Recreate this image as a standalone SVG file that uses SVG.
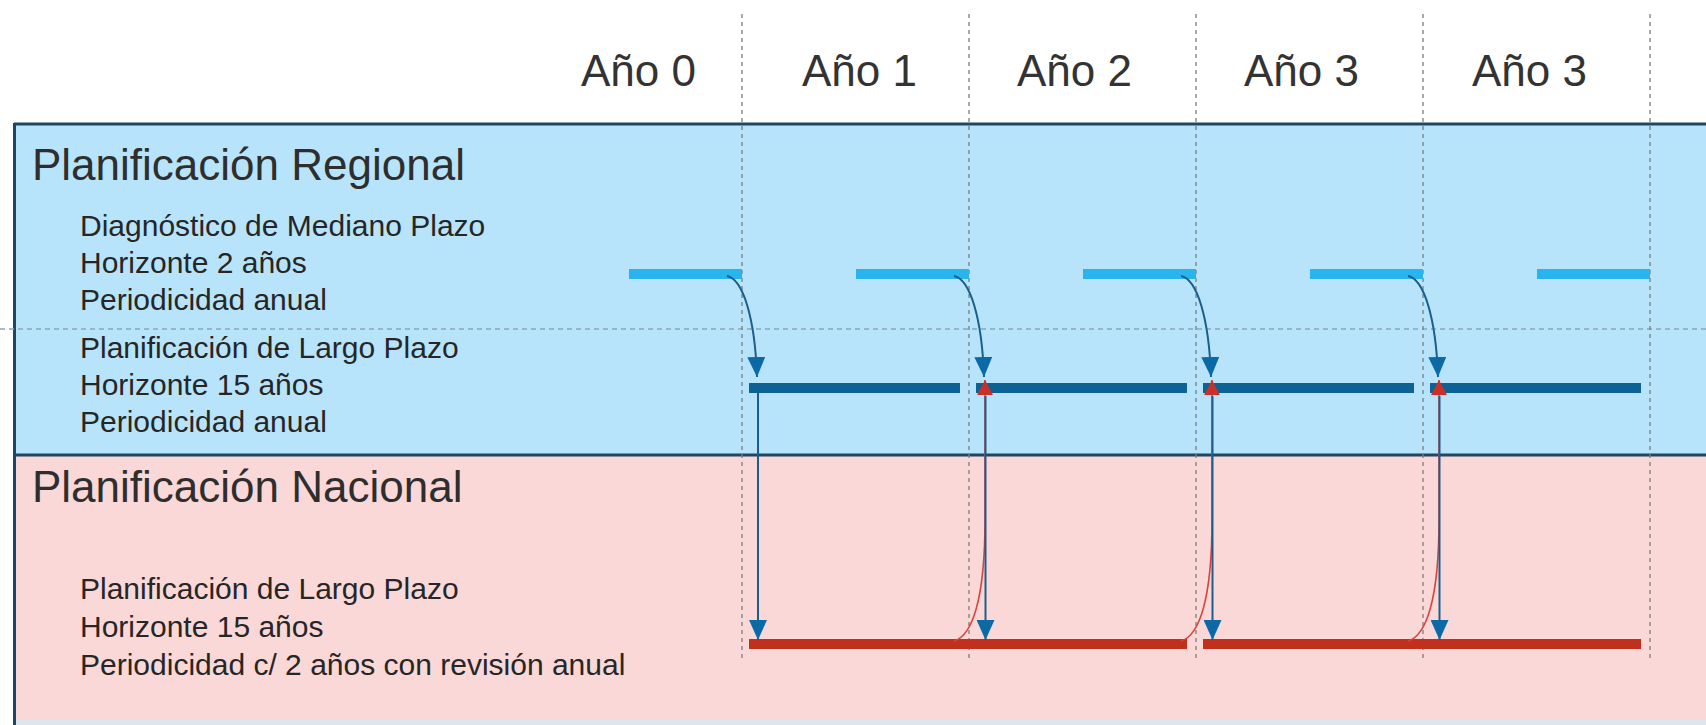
<svg xmlns="http://www.w3.org/2000/svg" width="1706" height="725" viewBox="0 0 1706 725">
<defs>
<style>
.head{font-family:"Liberation Sans",Arial,sans-serif;font-size:44px;fill:#2e2e2e}
.year{font-family:"Liberation Sans",Arial,sans-serif;font-size:44px;fill:#333333}
.sub{font-family:"Liberation Sans",Arial,sans-serif;font-size:30px;fill:#262626}
.vdash{stroke:#7d7d7d;stroke-width:1.3;stroke-dasharray:4 4;fill:none}
.hdash{stroke:#8aa6b8;stroke-width:1.3;stroke-dasharray:5 4;fill:none}
.border{stroke:#1d4763;stroke-width:3;fill:none}
.light{stroke:#2ab4ee;stroke-width:10;fill:none}
.dark{stroke:#0d6193;stroke-width:10;fill:none}
.red{stroke:#c0301d;stroke-width:10;fill:none}
.bconn{stroke:#1b5e8c;stroke-width:2;fill:none}
.rconn{stroke:#d6433c;stroke-width:1.6;fill:none}
</style>
<marker id="ab" markerUnits="userSpaceOnUse" viewBox="0 0 20 18" markerWidth="20" markerHeight="18" refX="20" refY="9" orient="auto">
<path d="M0,0 L20,9 L0,18 z" fill="#0b6aa6"/>
</marker>
<marker id="ar" markerUnits="userSpaceOnUse" viewBox="0 0 15 16" markerWidth="15" markerHeight="16" refX="15" refY="8" orient="auto">
<path d="M0,0 L15,8 L0,16 z" fill="#c8302a"/>
</marker>
</defs>
<rect x="0" y="0" width="1706" height="725" fill="#ffffff"/>
<g id="regional">
<rect x="14" y="124" width="1692" height="331" fill="#b8e4fb"/>
</g>
<g id="nacional">
<rect x="14" y="455" width="1692" height="265" fill="#fad8d7"/>
<rect x="14" y="720" width="1692" height="5" fill="#dde6ee"/>
</g>
<g id="borders">
<line class="border" x1="14" y1="124" x2="1706" y2="124"/>
<line class="border" x1="14" y1="455" x2="1706" y2="455"/>
<line class="border" x1="14.5" y1="123" x2="14.5" y2="725"/>
</g>
<g id="grid">
<line class="hdash" x1="0" y1="329" x2="1706" y2="329"/>
<line class="vdash" x1="742" y1="14" x2="742" y2="660"/>
<line class="vdash" x1="969" y1="14" x2="969" y2="660"/>
<line class="vdash" x1="1196" y1="14" x2="1196" y2="660"/>
<line class="vdash" x1="1423" y1="14" x2="1423" y2="660"/>
<line class="vdash" x1="1650" y1="14" x2="1650" y2="660"/>
</g>
<g id="years">
<text class="year" x="581" y="86">Año 0</text>
<text class="year" x="802" y="86">Año 1</text>
<text class="year" x="1017" y="86">Año 2</text>
<text class="year" x="1244" y="86">Año 3</text>
<text class="year" x="1472" y="86">Año 3</text>
</g>
<g id="labels-regional">
<text class="head" x="32" y="180">Planificación Regional</text>
<text class="sub" x="80" y="236">Diagnóstico de Mediano Plazo</text>
<text class="sub" x="80" y="273">Horizonte 2 años</text>
<text class="sub" x="80" y="310">Periodicidad anual</text>
<text class="sub" x="80" y="358">Planificación de Largo Plazo</text>
<text class="sub" x="80" y="395">Horizonte 15 años</text>
<text class="sub" x="80" y="432">Periodicidad anual</text>
</g>
<g id="labels-nacional">
<text class="head" x="32" y="502">Planificación Nacional</text>
<text class="sub" x="80" y="599">Planificación de Largo Plazo</text>
<text class="sub" x="80" y="637">Horizonte 15 años</text>
<text class="sub" x="80" y="675">Periodicidad c/ 2 años con revisión anual</text>
</g>
<g id="bars-diagnostico">
<line class="light" x1="629" y1="274" x2="742" y2="274"/>
<line class="light" x1="856" y1="274" x2="969" y2="274"/>
<line class="light" x1="1083" y1="274" x2="1196" y2="274"/>
<line class="light" x1="1310" y1="274" x2="1423" y2="274"/>
<line class="light" x1="1537" y1="274" x2="1650" y2="274"/>
</g>
<g id="bars-regional-largo">
<line class="dark" x1="749" y1="388" x2="960" y2="388"/>
<line class="dark" x1="976" y1="388" x2="1187" y2="388"/>
<line class="dark" x1="1203" y1="388" x2="1414" y2="388"/>
<line class="dark" x1="1430" y1="388" x2="1641" y2="388"/>
</g>
<g id="bars-nacional">
<line class="red" x1="749" y1="644" x2="1187" y2="644"/>
<line class="red" x1="1203" y1="644" x2="1641" y2="644"/>
</g>
<g id="connectors">
<path class="rconn" marker-end="url(#ar)" d="M954,641 C972,636 985,600 985,520 L985,380"/>
<path class="rconn" marker-end="url(#ar)" d="M1181,641 C1199,636 1212,600 1212,520 L1212,380"/>
<path class="rconn" marker-end="url(#ar)" d="M1408,641 C1426,636 1439,600 1439,520 L1439,380"/>
<path class="bconn" marker-end="url(#ab)" d="M727,276 C743,279 755,318 757,377"/>
<path class="bconn" marker-end="url(#ab)" d="M954,276 C970,279 982,318 984,377"/>
<path class="bconn" marker-end="url(#ab)" d="M1181,276 C1197,279 1209,318 1211,377"/>
<path class="bconn" marker-end="url(#ab)" d="M1408,276 C1424,279 1436,318 1438,377"/>
<path class="bconn" marker-end="url(#ab)" d="M758,393 L758,640"/>
<path class="bconn" marker-end="url(#ab)" d="M985.5,396 L985.5,640"/>
<path class="bconn" marker-end="url(#ab)" d="M1212.5,396 L1212.5,640"/>
<path class="bconn" marker-end="url(#ab)" d="M1439.5,396 L1439.5,640"/>
</g>
</svg>
